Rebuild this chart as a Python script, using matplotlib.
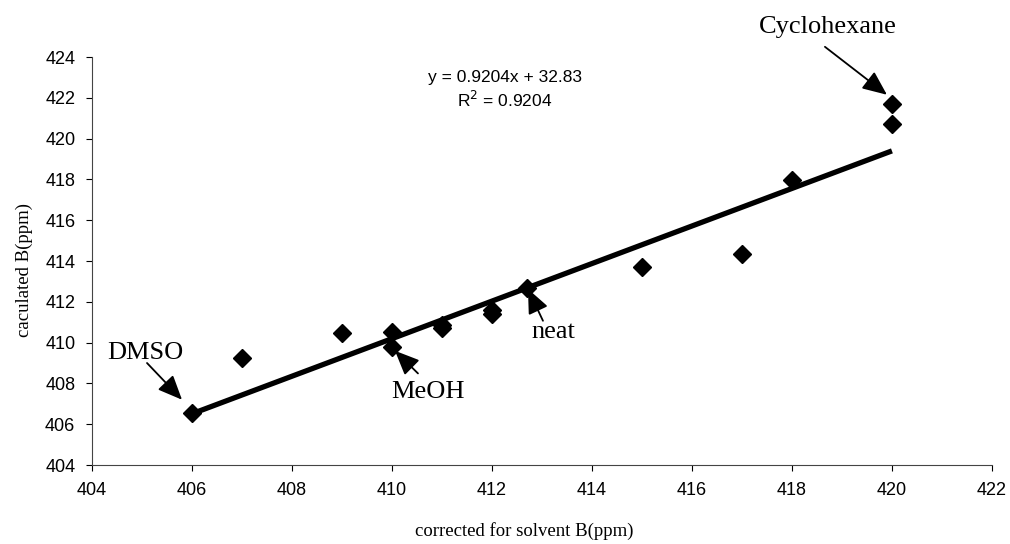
import matplotlib.pyplot as plt
import numpy as np

# datos
x_data = [406, 407, 409, 410, 410, 411, 411, 412, 412, 412.7, 415, 417, 418, 420, 420]
y_data = [406.55, 409.25, 410.45, 410.5, 409.8, 410.85, 410.7, 411.6, 411.4, 412.7, 413.7, 414.35, 417.95, 421.7, 420.7]

pendiente = 0.9204
intercepto = 32.83

x_ticks = np.arange(404, 423, 2)
y_ticks = np.arange(404, 425, 2)

plt.rcParams["font.family"] = "Liberation Sans"

fig = plt.figure(figsize=(10.1, 5.44), dpi=100)
ax = fig.add_axes([0.0911, 0.1452, 0.891, 0.750])

# recta de ajuste
x_fit = np.array([406, 420])
ax.plot(x_fit, pendiente * x_fit + intercepto, color="black", lw=3.8, solid_capstyle="butt", zorder=2)
ax.plot(x_data, y_data, linestyle="none", marker="D", markersize=9, color="black", zorder=3)

ax.set_xlim(404, 422)
ax.set_ylim(404, 424)
ax.set_xticks(x_ticks)
ax.set_yticks(y_ticks)
ax.tick_params(labelsize=13, direction="out", length=4, width=0.8, pad=8)
for s in ["top", "right"]:
    ax.spines[s].set_visible(False)
for s in ["left", "bottom"]:
    ax.spines[s].set_linewidth(0.8)
    ax.spines[s].set_color("#444444")

ax.text(412.26, 423.0, "y = 0.9204x + 32.83", ha="center", va="center", fontsize=12.5)
ax.text(412.26, 421.9, "R$^2$ = 0.9204", ha="center", va="center", fontsize=12.5)

serif = "Liberation Serif"
ax.set_xlabel("corrected for solvent B(ppm)", family=serif, fontsize=13.5)
ax.xaxis.set_label_coords(0.48, -0.14)
ax.set_ylabel("caculated B(ppm)", family=serif, fontsize=13.5)
ax.yaxis.set_label_coords(-0.066, 0.478)

flecha = dict(arrowstyle="-|>,head_length=1.5,head_width=0.65", color="black", lw=1.3,
              shrinkA=0, shrinkB=0)
ax.text(418.72, 425.45, "Cyclohexane", family=serif, fontsize=19, ha="center", va="center", clip_on=False)
ax.annotate("", xy=(419.9, 422.15), xytext=(418.66, 424.5), arrowprops=flecha, annotation_clip=False)
ax.text(405.06, 409.5, "DMSO", family=serif, fontsize=19, ha="center", va="center")
ax.annotate("", xy=(405.8, 407.2), xytext=(405.1, 409.0), arrowprops=flecha)
ax.text(410.72, 407.6, "MeOH", family=serif, fontsize=19, ha="center", va="center")
ax.annotate("", xy=(410.06, 409.6), xytext=(410.52, 408.49), arrowprops=flecha)
ax.text(413.22, 410.54, "neat", family=serif, fontsize=19, ha="center", va="center")
ax.annotate("", xy=(412.72, 412.63), xytext=(413.02, 411.07), arrowprops=flecha)

plt.savefig("out.png", dpi=100)
